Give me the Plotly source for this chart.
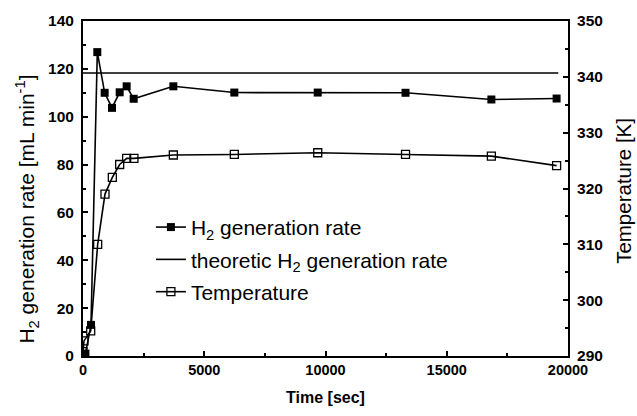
import plotly.graph_objects as go

# H2 generation rate (left axis)
h2_time = [0, 100, 330, 590, 893, 1196, 1512, 1800, 2090, 3725, 6240, 9680, 13300, 16840, 19530]
h2_rate = [0, 1, 13, 127, 110, 103.7, 110.2, 112.7, 107.5, 112.7, 110.1, 110.1, 110.0, 107.2, 107.6]

# theoretical H2 generation rate
theo_time = [0, 19600]
theo_rate = [118.3, 118.3]

# reactor temperature (right axis)
temp_time = [0, 40, 317, 605, 907, 1210, 1512, 1800, 2100, 3725, 6240, 9680, 13300, 16840, 19530]
temp_k = [290.8, 292.7, 294.5, 310.0, 319.0, 322.0, 324.3, 325.4, 325.4, 326.0, 326.1, 326.4, 326.1, 325.8, 324.1]

FONT = "Liberation Sans, Arial, sans-serif"

fig = go.Figure()
fig.add_trace(go.Scatter(
    x=h2_time, y=h2_rate, name="H<sub>2</sub> generation rate",
    mode="lines+markers", legendgroup="a",
    line=dict(color="black", width=1.6),
    marker=dict(symbol="square", size=8, color="black"),
))
fig.add_trace(go.Scatter(
    x=theo_time, y=theo_rate, name="theoretic H<sub>2</sub> generation rate",
    mode="lines", legendgroup="b",
    line=dict(color="black", width=1.6),
))
fig.add_trace(go.Scatter(
    x=temp_time, y=temp_k, name="Temperature", yaxis="y2", legendgroup="c",
    mode="lines+markers",
    line=dict(color="black", width=1.6),
    marker=dict(symbol="square-open", size=8, color="black", line=dict(width=1.3)),
))

xtickfont = dict(family=FONT, size=14.5, color="black", weight="bold")
ytickfont = dict(family=FONT, size=15.5, color="black", weight="bold")

fig.update_layout(
    width=637, height=416,
    margin=dict(l=83, r=69, t=21, b=58),
    paper_bgcolor="white", plot_bgcolor="white",
    showlegend=True,
    legend=dict(
        x=0.14, y=0.445, xanchor="left", yanchor="top",
        font=dict(family=FONT, size=21, color="black"),
        bgcolor="rgba(0,0,0,0)", tracegroupgap=2,
    ),
    xaxis=dict(
        range=[0, 20000], tickvals=[0, 5000, 10000, 15000, 20000], tickformat="d",
        ticks="inside", ticklen=5, tickwidth=1.5, tickcolor="black",
        minor=dict(dtick=2500, ticks="inside", ticklen=3, tickcolor="black", tickwidth=1.5),
        showline=True, linecolor="black", linewidth=2, mirror=True,
        showgrid=False, zeroline=False,
        tickfont=xtickfont,
        title=dict(text="Time [sec]", font=dict(family=FONT, size=16, color="black", weight="bold"),
                   standoff=14),
    ),
    yaxis=dict(
        range=[0, 140], dtick=20,
        ticks="inside", ticklen=5, tickwidth=1.5, tickcolor="black",
        minor=dict(dtick=10, ticks="inside", ticklen=3, tickcolor="black", tickwidth=1.5),
        showline=True, linecolor="black", linewidth=2,
        showgrid=False, zeroline=False,
        tickfont=ytickfont, ticklabelstandoff=4,
    ),
    yaxis2=dict(
        range=[290, 350], dtick=10, overlaying="y", side="right",
        ticks="inside", ticklen=5, tickwidth=1.5, tickcolor="black",
        minor=dict(dtick=5, ticks="inside", ticklen=3, tickcolor="black", tickwidth=1.5),
        showline=True, linecolor="black", linewidth=2,
        showgrid=False, zeroline=False,
        tickfont=ytickfont, ticklabelstandoff=4,
    ),
    annotations=[
        dict(text="H<sub>2</sub> generation rate [mL min<sup>-1</sup>]",
             xref="paper", yref="paper", x=-0.1155, y=0.44,
             xanchor="center", yanchor="middle", textangle=-90, showarrow=False,
             font=dict(family=FONT, size=21, color="black")),
        dict(text="Temperature [K]",
             xref="paper", yref="paper", x=1.1155, y=0.493,
             xanchor="center", yanchor="middle", textangle=-90, showarrow=False,
             font=dict(family=FONT, size=20.5, color="black")),
    ],
)

fig.write_html("out.html")
